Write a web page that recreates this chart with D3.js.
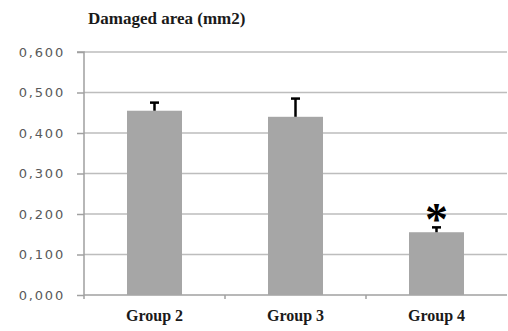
<!DOCTYPE html>
<html><head><meta charset="utf-8">
<script src="https://cdn.jsdelivr.net/npm/d3@7"></script>
<style>body{margin:0;background:#fff;}svg{display:block;}
.serif{font-family:"Liberation Serif","DejaVu Serif","Times New Roman",serif;font-weight:bold;}
</style>
</head><body>
<script>
const categories = ["Group 2", "Group 3", "Group 4"];
const values = [0.455, 0.440, 0.155];
const errors = [0.020, 0.045, 0.012];
const yTicks = [0, 0.1, 0.2, 0.3, 0.4, 0.5, 0.6];
const significant = [false, false, true];
const title = "Damaged area (mm2)";

const W = 508, H = 331;
const svg = d3.select("body").append("svg").attr("width", W).attr("height", H);

const x = d3.scaleBand().domain(categories).range([84, 507]).paddingInner(0.61).paddingOuter(0.305);
const y = d3.scaleLinear().domain([0, 0.6]).range([295, 52]);

// gridlines
svg.append("g").selectAll("line").data(yTicks.filter(d => d > 0)).join("line")
  .attr("x1", 84).attr("x2", 507)
  .attr("y1", d => y(d)).attr("y2", d => y(d))
  .attr("stroke", "#bdbdbd").attr("stroke-width", 1.5);

// y axis
const yAxis = d3.axisLeft(y).tickValues(yTicks).tickSize(7).tickPadding(12)
  .tickFormat(d => d3.format(".3f")(d).replace(".", ","));
const gy = svg.append("g").attr("transform", "translate(84,0)").call(yAxis);
gy.select(".domain").attr("stroke", "#a0a0a0").attr("stroke-width", 1.5).attr("d", `M-7,${y(0.6)}H0V${y(0)+4}`);
gy.selectAll(".tick line").attr("stroke", "#a0a0a0").attr("stroke-width", 1.5);
gy.selectAll(".tick text").attr("fill", "#595959").attr("font-family", "DejaVu Sans, Verdana, sans-serif")
  .attr("font-size", 13).attr("letter-spacing", "1.8px");

// x axis
const gx = svg.append("g").attr("transform", `translate(0,${y(0)})`);
gx.append("line").attr("x1", 84).attr("x2", 507).attr("stroke", "#a0a0a0").attr("stroke-width", 1.5);
const bandEdges = categories.slice(1).map(c => x(c) - x.step() * x.paddingInner() / 2);
gx.selectAll("line.t").data(bandEdges).join("line").attr("class", "t")
  .attr("x1", d => d).attr("x2", d => d).attr("y1", 0).attr("y2", 4)
  .attr("stroke", "#a0a0a0").attr("stroke-width", 1.5);
gx.selectAll("text").data(categories).join("text").attr("class", "serif")
  .attr("x", d => x(d) + x.bandwidth() / 2).attr("y", 26)
  .attr("text-anchor", "middle")
  .attr("font-size", 16).attr("fill", "#1a1a1a").text(d => d);

// bars
svg.append("g").selectAll("rect").data(categories).join("rect")
  .attr("x", d => x(d)).attr("width", x.bandwidth())
  .attr("y", (d, i) => y(values[i])).attr("height", (d, i) => y(0) - y(values[i]))
  .attr("fill", "#a6a6a6");

// error bars
const eb = svg.append("g");
categories.forEach((c, i) => {
  const cx = x(c) + x.bandwidth() / 2;
  eb.append("line").attr("x1", cx).attr("x2", cx).attr("y1", y(values[i])).attr("y2", y(values[i] + errors[i]))
    .attr("stroke", "#000").attr("stroke-width", 2.5);
  eb.append("line").attr("x1", cx - 4.5).attr("x2", cx + 4.5).attr("y1", y(values[i] + errors[i])).attr("y2", y(values[i] + errors[i]))
    .attr("stroke", "#000").attr("stroke-width", 2.5);
  if (significant[i]) {
    eb.append("text").attr("class", "serif").attr("x", cx).attr("y", y(values[i] + errors[i]) + 8)
      .attr("text-anchor", "middle")
      .attr("font-size", 46).attr("fill", "#000").text("*");
  }
});

// title
svg.append("text").attr("class", "serif").attr("x", 88).attr("y", 24)
  .attr("font-size", 17).attr("fill", "#1a1a1a").text(title);
</script>
</body></html>
